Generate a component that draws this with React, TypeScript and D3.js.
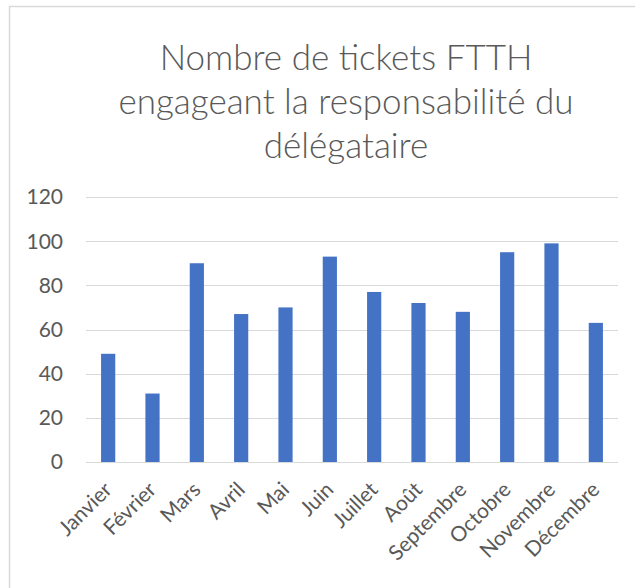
import React from "react";
import * as d3 from "d3";

const months = ["Janvier","Février","Mars","Avril","Mai","Juin","Juillet","Août","Septembre","Octobre","Novembre","Décembre"];
const tickets = [49, 31, 90, 67, 70, 93, 77, 72, 68, 95, 99, 63];
const yTicks = [0, 20, 40, 60, 80, 100, 120];
const titleLines = ["Nombre de tickets FTTH", "engageant la responsabilité du", "délégataire"];

const W = 635, H = 588;
const plot = { left: 86, right: 618, top: 197, bottom: 462 };

export default function App() {
  const x = d3.scaleBand<string>().domain(months).range([plot.left, plot.right]).paddingInner(0.68).paddingOuter(0.34);
  const y = d3.scaleLinear().domain([0, 120]).range([plot.bottom, plot.top]);
  const font = "Lato, 'Open Sans', sans-serif";
  return (
    <svg width={W} height={H} style={{ position: "absolute", left: 0, top: 0, background: "#fff" }} fontFamily={font}>
      <rect x={9.5} y={6.5} width={W} height={H} fill="#fff" stroke="#d9d9d9" strokeWidth={1.5} />
      {titleLines.map((t, i) => (
        <text key={i} x={346} y={70 + i * 44} textAnchor="middle" fontSize={35} fontWeight={300} fill="#595959">{t}</text>
      ))}
      {yTicks.map((t) => (
        <g key={t}>
          <line x1={plot.left} x2={plot.right} y1={Math.round(y(t)) + 0.5} y2={Math.round(y(t)) + 0.5} stroke="#d9d9d9" strokeWidth={1} />
          <text x={63} y={y(t)} dy="0.35em" textAnchor="end" fontSize={21} fill="#595959">{t}</text>
        </g>
      ))}
      {months.map((m, i) => (
        <rect key={m} x={x(m)} y={y(tickets[i])} width={x.bandwidth()} height={y(0) - y(tickets[i])} fill="#4472C4" />
      ))}
      {months.map((m) => {
        const cx = (x(m) as number) + x.bandwidth() / 2;
        return (
          <text key={m} transform={`translate(${cx + 5},${491}) rotate(-45)`} textAnchor="end" fontSize={21} fill="#595959">{m}</text>
        );
      })}
    </svg>
  );
}
